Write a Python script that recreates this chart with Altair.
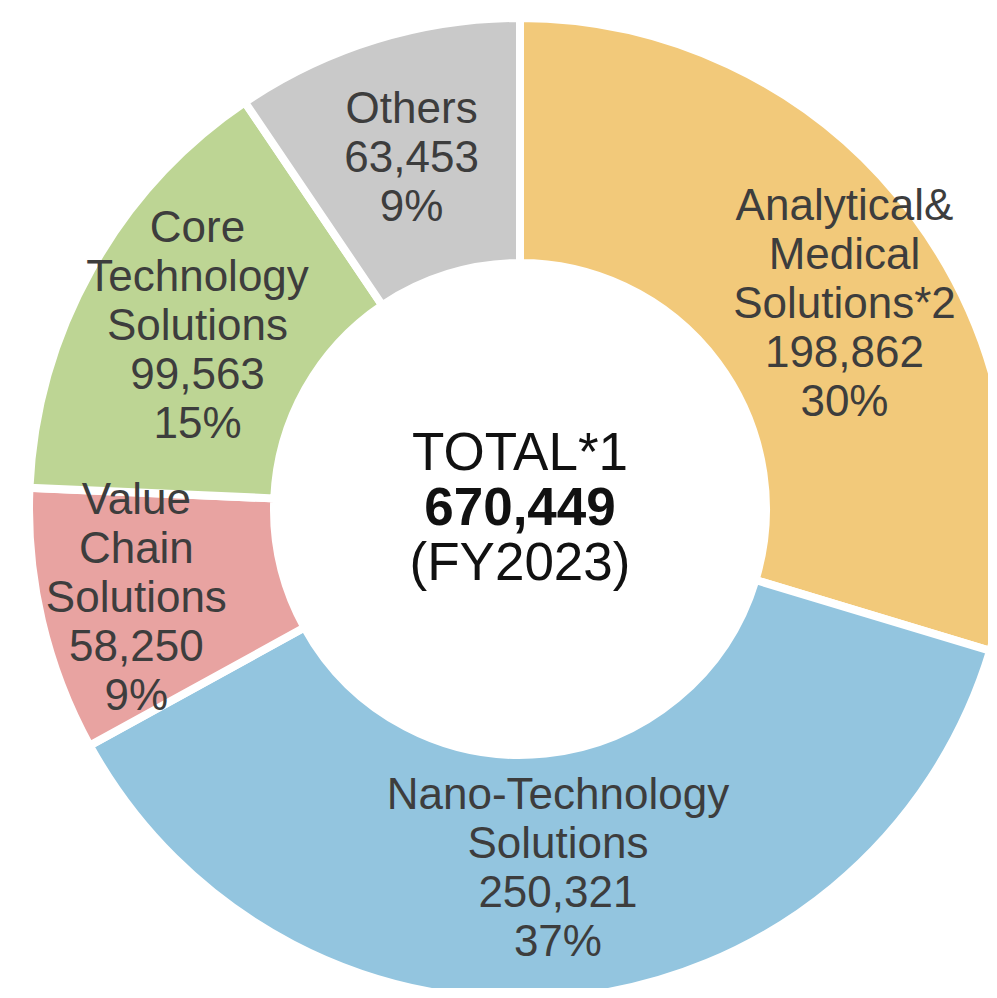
import altair as alt
import pandas as pd

# ---- data ----
segments = ["Analytical & Medical", "Nano-Technology", "Value Chain", "Core Technology", "Others"]
label_names = [
    "Analytical&\nMedical\nSolutions*2",
    "Nano-Technology\nSolutions",
    "Value\nChain\nSolutions",
    "Core\nTechnology\nSolutions",
    "Others",
]
values = [198862, 250321, 58250, 99563, 63453]
percents = ["30%", "37%", "9%", "15%", "9%"]
colors = ["#F2C97A", "#93C5DF", "#E8A3A1", "#BDD594", "#C9C9C9"]

center_lines = ["TOTAL*1", "670,449", "(FY2023)"]

df = pd.DataFrame({
    "idx": list(range(len(segments))),
    "segment": segments,
    "value": values,
    "label": [f"{n}\n{v:,}\n{p}" for n, v, p in zip(label_names, values, percents)],
})
cdf = pd.DataFrame({"line": center_lines})

CX, CY = 512, 501
LH = 49

base = alt.Chart(df).encode(
    theta=alt.Theta("value:Q", stack=True),
    order=alt.Order("idx:Q"),
    color=alt.Color("segment:N", scale=alt.Scale(domain=segments, range=colors), legend=None),
)

arcs = base.mark_arc(outerRadius=491, innerRadius=246, stroke="white", strokeWidth=8).encode(
    x=alt.value(CX), y=alt.value(CY)
)

# label placement style per segment: (radius, dx, dy nudge)
placement = {
    "Analytical & Medical": (383, 17, 24),
    "Nano-Technology": (362, 0, 0),
    "Value Chain": (394, 0, 0),
    "Core Technology": (374, 4, 0),
    "Others": (370, 0, 4),
}

def seg_label(seg):
    r, dx, dy = placement[seg]
    i = segments.index(seg)
    nlines = df["label"][i].count("\n") + 1
    return base.mark_text(
        radius=r, fontSize=44, font="Liberation Sans", lineBreak="\n", lineHeight=LH,
        align="center", baseline="middle", dx=dx, dy=dy - (nlines - 1) * LH / 2,
    ).encode(
        x=alt.value(CX), y=alt.value(CY),
        text=alt.condition(alt.datum.segment == seg, "label:N", alt.value("")),
        color=alt.value("#3D3D3D"),
    )

def center_text(i, dy, weight):
    return alt.Chart(cdf).transform_filter(
        alt.datum.line == center_lines[i]
    ).mark_text(
        fontSize=53, font="Liberation Sans", fontWeight=weight,
        align="center", baseline="middle", color="#111111", dy=dy,
    ).encode(x=alt.value(CX), y=alt.value(CY), text="line:N")

chart = alt.layer(
    arcs,
    *[seg_label(s) for s in segments],
    center_text(0, -55, "normal"),
    center_text(1, 0, "bold"),
    center_text(2, 55, "normal"),
).properties(
    width=980, height=980, padding=0,
    autosize=alt.AutoSizeParams(type="none"),
    background="white",
).configure_view(stroke=None)

chart.save("out.html", embed_options={"renderer": "svg", "actions": False})
